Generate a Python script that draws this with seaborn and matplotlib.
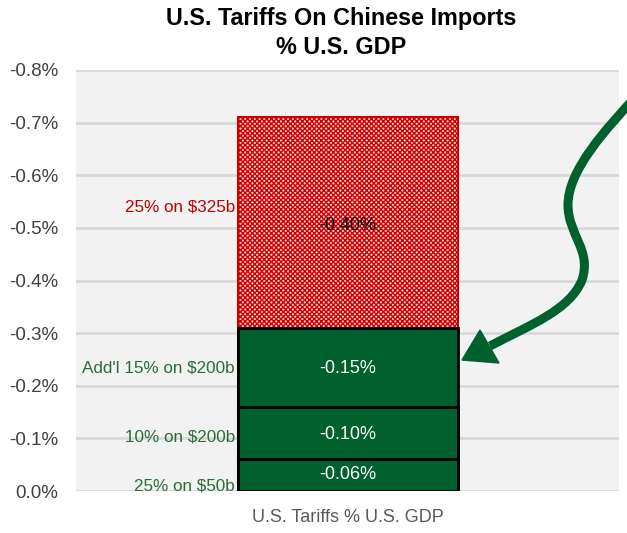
import matplotlib
matplotlib.use("Agg")
import matplotlib.pyplot as plt
import seaborn as sns
import pandas as pd
import numpy as np
from matplotlib.path import Path
from matplotlib.patches import PathPatch, Polygon
from matplotlib.transforms import IdentityTransform

# ---- data ----
category = ["U.S. Tariffs % U.S. GDP"]
segment_labels = ["25% on $50b", "10% on $200b", "Add'l 15% on $200b", "25% on $325b"]
segment_values = [-0.06, -0.10, -0.15, -0.40]
value_texts = ["-0.06%", "-0.10%", "-0.15%", "-0.40%"]
y_ticks = [0.0, -0.1, -0.2, -0.3, -0.4, -0.5, -0.6, -0.7, -0.8]

sns.set_theme(style="white")
NARROW = ["Liberation Sans Narrow", "Liberation Sans", "DejaVu Sans"]
plt.rcParams["font.family"] = NARROW
plt.rcParams["hatch.linewidth"] = 1.0

GREEN = "#00612E"
RED = "#C00000"
LBL_GREEN = "#2E6B3C"
GRAY = "#595959"

fig = plt.figure(figsize=(6.27, 5.33), dpi=100)
ax = fig.add_axes([76 / 627, 1 - 491 / 533, 543 / 627, 421 / 533])
ax.set_facecolor("#F2F2F2")

cum = np.cumsum(segment_values)
styles = [
    dict(color=GREEN, edgecolor="black", linewidth=2),
    dict(color=GREEN, edgecolor="black", linewidth=2),
    dict(color=GREEN, edgecolor="black", linewidth=2),
    dict(color="#F8D4D4", edgecolor="#D00000", linewidth=1.5, hatch="xxxxxxx"),
]
for i in reversed(range(len(cum))):
    df = pd.DataFrame({"cat": category, "val": [cum[i]]})
    sns.barplot(data=df, x="cat", y="val", ax=ax, width=0.8, saturation=1,
                zorder=3 + (len(cum) - i), **styles[i])

ax.set_ylim(0, -0.8)
ax.set_xlim(-0.989, 0.985)
ax.set_yticks(y_ticks)
ax.set_yticklabels([f"{abs(v):.1f}%" if v == 0 else f"{v:.1f}%" for v in y_ticks])
ax.yaxis.grid(True, color="#D9D9D9", linewidth=2, zorder=0)
ax.set_axisbelow(True)
ax.tick_params(axis="y", length=0, pad=13, labelsize=13.5, labelcolor="#404040")
ax.tick_params(axis="x", length=0, pad=13, labelsize=13, labelcolor=GRAY)
ax.set_xlabel("")
ax.set_ylabel("")
for s in ax.spines.values():
    s.set_visible(False)

# segment value texts
val_y = [-0.032, -0.108, -0.232, -0.504]
for t, yv, i in zip(value_texts, val_y, range(4)):
    ax.text(0, yv, t, ha="center", va="center", fontsize=13,
            color="black" if i == 3 else "white", zorder=10)

# left-side labels
lab_y = [-0.01, -0.103, -0.234, -0.54]
for t, yv, i in zip(segment_labels, lab_y, range(4)):
    ax.text(-0.411, yv, t, ha="right", va="center", fontsize=12.3,
            color=RED if i == 3 else LBL_GREEN, zorder=10)

# title
TFAM = ["Liberation Sans", "DejaVu Sans"]
fig.text(341 / 627, 1 - 19 / 533, "U.S. Tariffs On Chinese Imports", ha="center", va="center",
         fontsize=16.8, fontweight="bold", family=TFAM, color="black")
fig.text(341 / 627, 1 - 47 / 533, "% U.S. GDP", ha="center", va="center",
         fontsize=16.8, fontweight="bold", family=TFAM, color="black")

# curved arrow (figure pixel coords, y down -> converted)
H = 533
pts = [(640, 92),
       (605, 130), (568, 170), (568, 205),
       (568, 235), (592, 250), (582, 280),
       (570, 310), (530, 325), (490, 346)]
verts = [(x, H - y) for x, y in pts]
codes = [Path.MOVETO] + [Path.CURVE4] * 9
shaft = PathPatch(Path(verts, codes), transform=IdentityTransform(), facecolor="none",
                  edgecolor=GREEN, linewidth=6.5, capstyle="butt", zorder=20)
fig.patches.append(shaft)
head = Polygon([(462, H - 360), (480, H - 330), (499, H - 363)], closed=True,
               transform=IdentityTransform(), facecolor=GREEN, edgecolor=GREEN,
               linewidth=1, zorder=21)
fig.patches.append(head)

fig.savefig("out.png", dpi=100)
